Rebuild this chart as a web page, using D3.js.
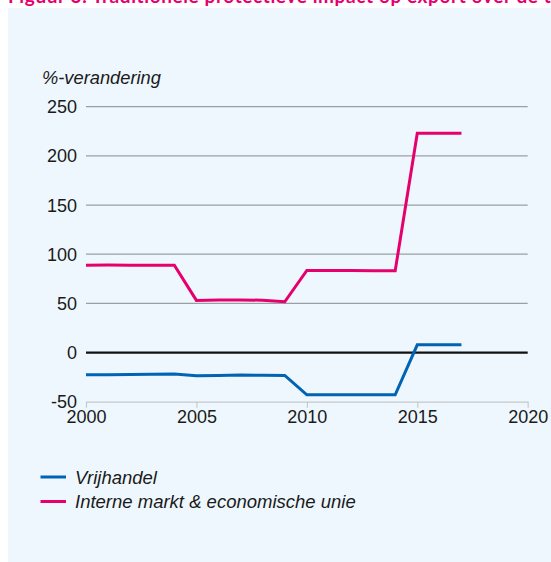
<!DOCTYPE html>
<html>
<head>
<meta charset="utf-8">
<script src="https://cdn.jsdelivr.net/npm/d3@7"></script>
<style>
  html, body { margin: 0; padding: 0; background: #ffffff; }
  svg { display: block; }
</style>
</head>
<body>
<svg id="chart" width="551" height="562"></svg>
<script>
// Series: yearly percentage change
const years = [2000, 2001, 2002, 2003, 2004, 2005, 2006, 2007, 2008, 2009, 2010, 2011, 2012, 2013, 2014, 2015, 2016, 2017];
const vrijhandel = [-22.5, -22.5, -22.3, -22.0, -21.8, -23.6, -23.3, -22.9, -23.1, -23.3, -43.0, -43.0, -43.0, -43.0, -43.0, 7.8, 7.8, 7.8];
const interneMarkt = [88.8, 89.0, 88.8, 88.7, 88.8, 53.0, 53.3, 53.5, 53.2, 51.6, 83.5, 83.5, 83.3, 83.1, 83.1, 223.0, 223.0, 223.0];

const seriesNames = ["Vrijhandel", "Interne markt & economische unie"];
const seriesColors = ["#0063B4", "#E5006E"];

const yTicks = [250, 200, 150, 100, 50, 0, -50];
const xTicks = [2000, 2005, 2010, 2015, 2020];

const titleText = "Figuur 3. Traditionele protectieve impact op export over de tijd";
const yLabel = "%-verandering";

const svg = d3.select("#chart");
const font = "'Liberation Sans', Arial, sans-serif";

// Panel background
svg.append("rect")
  .attr("x", 8).attr("y", 8)
  .attr("width", 543).attr("height", 554)
  .attr("fill", "#EEF7FE");

// Title (runs off the top of the view)
svg.append("text")
  .attr("x", 8).attr("y", 3)
  .attr("font-family", "Lato, 'Open Sans', sans-serif")
  .attr("font-weight", "bold")
  .attr("font-size", 19)
  .attr("letter-spacing", 0.6)
  .attr("fill", "#E5006E")
  .text(titleText);

const x = d3.scaleLinear().domain([2000, 2020]).range([86, 527.7]);
const y = d3.scaleLinear().domain([-50, 250]).range([401.7, 106.7]);

// Horizontal gridlines
svg.append("g")
  .selectAll("line")
  .data(yTicks.filter(d => d !== 0 && d !== -50))
  .join("line")
  .attr("x1", x(2000)).attr("x2", x(2020))
  .attr("y1", d => y(d)).attr("y2", d => y(d))
  .attr("stroke", "#9a9fa3")
  .attr("stroke-width", 1.2);

// Y tick labels
svg.append("g")
  .selectAll("text")
  .data(yTicks)
  .join("text")
  .attr("x", 77)
  .attr("y", d => y(d))
  .attr("dy", "0.36em")
  .attr("text-anchor", "end")
  .attr("font-family", font)
  .attr("font-size", 18)
  .attr("fill", "#1a1a1a")
  .text(d => d);

// Y axis title
svg.append("text")
  .attr("x", 42).attr("y", 84)
  .attr("font-family", font)
  .attr("font-style", "italic")
  .attr("font-size", 18.3)
  .attr("fill", "#1a1a1a")
  .text(yLabel);

// X axis
const xAxis = d3.axisBottom(x)
  .tickValues(xTicks)
  .tickFormat(d3.format("d"))
  .tickSizeInner(6)
  .tickSizeOuter(0)
  .tickPadding(3);

const gx = svg.append("g")
  .attr("transform", `translate(0,${y(-50)})`)
  .call(xAxis);
gx.select(".domain").attr("stroke", "#c4c9cc").attr("stroke-width", 1.2);
gx.selectAll(".tick line").attr("stroke", "#c4c9cc").attr("stroke-width", 1.2);
gx.selectAll(".tick text")
  .attr("font-family", font)
  .attr("font-size", 18)
  .attr("fill", "#1a1a1a");

// Zero line
svg.append("line")
  .attr("x1", x(2000)).attr("x2", x(2020))
  .attr("y1", y(0)).attr("y2", y(0))
  .attr("stroke", "#111111")
  .attr("stroke-width", 2.2);

// Series lines
const line = d3.line()
  .x((d, i) => x(years[i]))
  .y(d => y(d));

[vrijhandel, interneMarkt].forEach((vals, k) => {
  svg.append("path")
    .datum(vals)
    .attr("d", line)
    .attr("fill", "none")
    .attr("stroke", seriesColors[k])
    .attr("stroke-width", 3)
    .attr("stroke-linejoin", "miter");
});

// Legend
const legend = svg.append("g");
seriesNames.forEach((name, k) => {
  const ly = 477 + k * 24.5;
  legend.append("line")
    .attr("x1", 40.5).attr("x2", 66)
    .attr("y1", ly).attr("y2", ly)
    .attr("stroke", seriesColors[k])
    .attr("stroke-width", 3);
  legend.append("text")
    .attr("x", 75).attr("y", ly)
    .attr("dy", "0.36em")
    .attr("font-family", font)
    .attr("font-style", "italic")
    .attr("font-size", 18.5)
    .attr("fill", "#1a1a1a")
    .text(name);
});
</script>
</body>
</html>
